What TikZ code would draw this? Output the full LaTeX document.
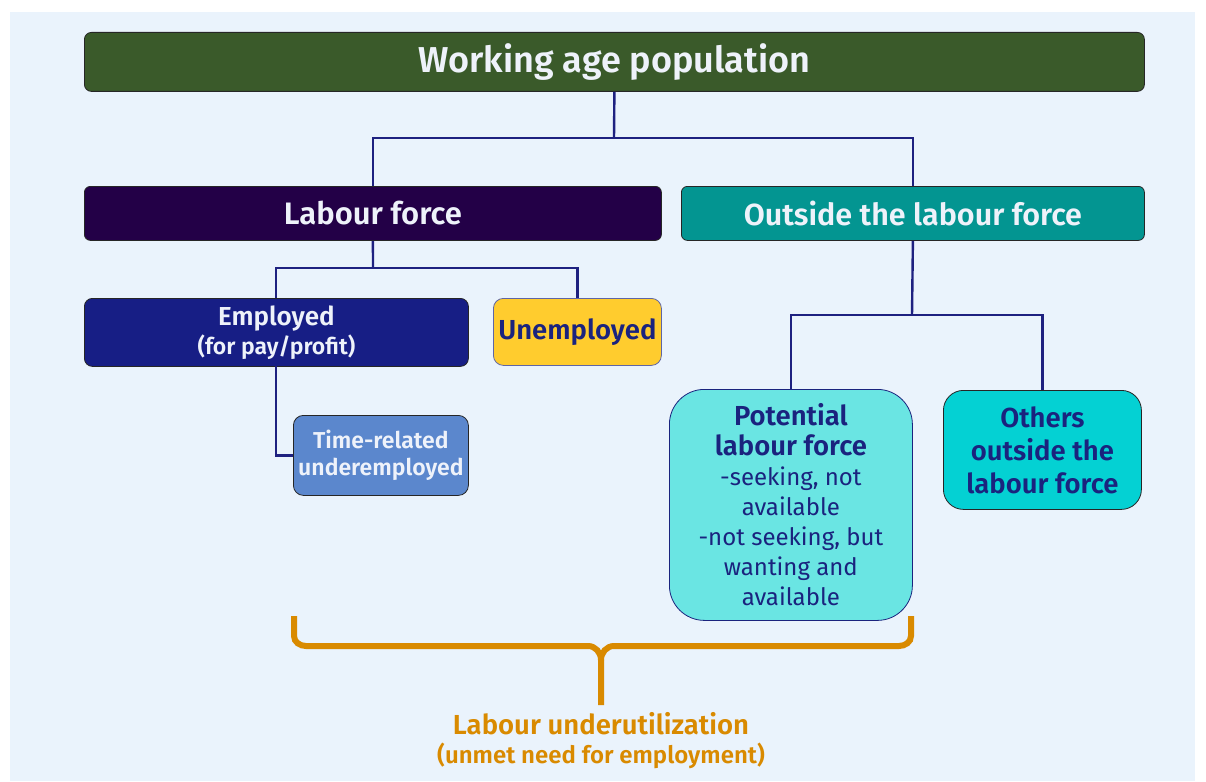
\documentclass[tikz,border=0pt]{standalone}
\usepackage{fontspec}
\setmainfont{Fira Sans}[BoldFont={Fira Sans SemiBold}]
\definecolor{bgblue}{HTML}{EAF3FC}
\definecolor{wapgreen}{HTML}{3A5A2A}
\definecolor{lfpurple}{HTML}{230047}
\definecolor{olfteal}{HTML}{039591}
\definecolor{empnavy}{HTML}{171E85}
\definecolor{unempyellow}{HTML}{FFCC2E}
\definecolor{trublue}{HTML}{5B87CD}
\definecolor{plfaqua}{HTML}{6AE5E3}
\definecolor{othcyan}{HTML}{04D1D3}
\definecolor{linknavy}{HTML}{1E2180}
\definecolor{txtnavy}{HTML}{1A237E}
\definecolor{txtwhite}{HTML}{EEF2FA}
\definecolor{braceorange}{HTML}{D98A00}
\newcommand{\plfhead}{\bfseries\fontsize{27.5}{33}\selectfont}
\newcommand{\plfbody}{\mdseries\fontsize{24}{30}\selectfont}
\tikzset{
  box/.style={draw=black!85, line width=0.8pt, anchor=north west, align=center,
    inner sep=0pt, font=\bfseries},
  link/.style={draw=linknavy, line width=2.4pt},
}
\begin{document}
\begin{tikzpicture}[x=1pt,y=-1pt]
  \useasboundingbox (0,0) rectangle (1206,781);
  \fill[white] (0,0) rectangle (1206,781);
  \fill[bgblue] (10,12) rectangle (1195,781);

  % boxes
  \node[box, fill=wapgreen, text=txtwhite, rounded corners=7pt,
    minimum width=1060pt, minimum height=59pt, font=\bfseries\fontsize{36}{40}\selectfont]
    (wap) at (84,32) {Working age population};
  \node[box, fill=lfpurple, text=txtwhite, rounded corners=6pt,
    minimum width=577pt, minimum height=54pt, font=\bfseries\fontsize{31}{34}\selectfont]
    (lf) at (84,186) {Labour force};
  \node[box, fill=olfteal, text=txtwhite, rounded corners=6pt,
    minimum width=463pt, minimum height=54pt, font=\bfseries\fontsize{30.5}{34}\selectfont]
    (olf) at (681,186) {Outside the labour force};
  \node[box, fill=empnavy, text=txtwhite, rounded corners=8pt,
    minimum width=384pt, minimum height=68pt, font=\bfseries\fontsize{26}{29}\selectfont]
    (emp) at (84,298) {Employed\\\fontsize{23}{26}\selectfont (for pay/profit)};
  \node[box, draw=txtnavy!70, fill=unempyellow, text=txtnavy, rounded corners=10pt,
    minimum width=168pt, minimum height=67pt, font=\bfseries\fontsize{27.5}{30}\selectfont]
    (unemp) at (493,298) {Unemployed};
  \node[box, fill=trublue, text=txtwhite, rounded corners=10pt,
    minimum width=175pt, minimum height=80pt, font=\bfseries\fontsize{23}{27}\selectfont]
    (tru) at (293,415) {Time-related\\underemployed};
  \node[box, draw=txtnavy, fill=plfaqua, text=txtnavy, rounded corners=35pt,
    minimum width=243pt, minimum height=231pt, font=\plfbody]
    (plf) at (669,389) {\plfhead Potential\\\plfhead labour force\\
      \plfbody -seeking, not\\available\\-not seeking, but\\wanting and\\available};
  \node[box, fill=othcyan, text=txtnavy, rounded corners=20pt,
    minimum width=198pt, minimum height=119pt, font=\bfseries\fontsize{27.5}{33}\selectfont]
    (oth) at (943,390) {Others\\outside the\\labour force};

  % connectors
  \coordinate (j1) at (614,138);
  \coordinate (j2) at (373,268);
  \coordinate (j3) at (912,315);
  \coordinate (ej) at (276,298);
  \coordinate (ejb) at (276,366);
  \draw[link] (wap.south) -- (j1);
  \draw[link] (lf.north) |- (j1) -| (olf.north);
  \draw[link] (lf.south) -- (j2);
  \draw[link] (ej) |- (j2) -| (unemp.north);
  \draw[link] (ejb) |- (tru.west);
  \draw[link] (olf.south) -- (j3);
  \draw[link] (plf.north) |- (j3) -| (oth.north);

  % brace and its label
  \coordinate (bl) at (294,616);
  \coordinate (br) at (911,616);
  \coordinate (btip) at (601,705);
  \draw[braceorange, line width=6pt]
    (bl) -- (294,636) to[out=-90,in=180] (306,646) -- (588,646)
    to[out=0,in=90] (601,660) -- (btip);
  \draw[braceorange, line width=6pt]
    (br) -- (911,636) to[out=-90,in=0] (899,646) -- (614,646)
    to[out=180,in=90] (601,660);
  \node[text=braceorange, font=\bfseries\fontsize{27.5}{30}\selectfont, align=center]
    (lu) at (601,724) {Labour underutilization};
  \node[text=braceorange, font=\bfseries\fontsize{24}{27}\selectfont, align=center]
    (lun) at (601,756) {(unmet need for employment)};
\end{tikzpicture}
\end{document}
